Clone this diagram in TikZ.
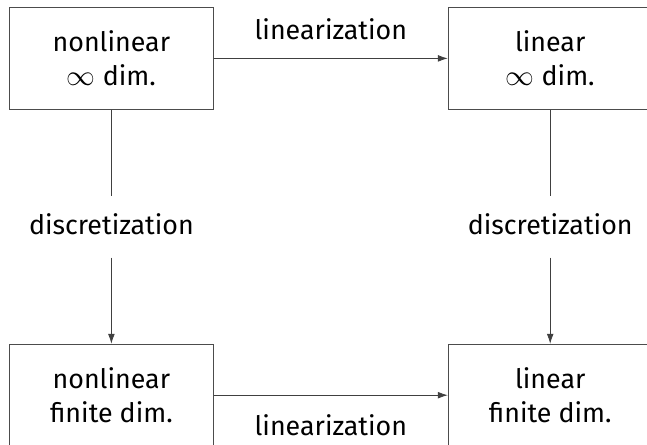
\documentclass[tikz,border=0pt]{standalone}
\usepackage{fontspec}
\setmainfont{Fira Sans}
\usetikzlibrary{arrows.meta,positioning}

\begin{document}
\begin{tikzpicture}[
  font=\fontsize{13.4}{17}\selectfont,
  box/.style ={draw=black!70, align=center, minimum width=102pt, minimum height=51pt, inner sep=0pt},
  arr/.style ={-{Latex[length=5pt,width=3.4pt]}, draw=black!75},
  lbl/.style ={inner xsep=2pt, inner ysep=8.5pt, text height=10.5pt, text depth=3pt},
  node distance=117pt and 117pt
]
\useasboundingbox (0,0) rectangle (323.5pt,-222pt);
\clip (0,0) rectangle (323.5pt,-222pt);
\node[box, anchor=north west] (nlinf) at (4.5pt,-3.5pt) {nonlinear\\$\infty$ dim.};
\node[box, right=of nlinf] (linf)  {linear\\$\infty$ dim.};
\node[box, below=of nlinf] (nlfin) {nonlinear\\finite dim.};
\node[box, below=of linf]  (lfin)  {linear\\finite dim.};
\draw[arr] (nlinf) -- node[above=5.7pt]{linearization} (linf);
\draw[arr] (nlfin) -- node[below=6.2pt]{linearization} (lfin);
% discretization labels break the vertical lines
\path (nlinf) -- node[lbl] (dl) {discretization} (nlfin);
\path (linf)  -- node[lbl] (dr) {discretization} (lfin);
\draw[draw=black!75] (nlinf) -- (dl); \draw[arr] (dl) -- (nlfin);
\draw[draw=black!75] (linf)  -- (dr); \draw[arr] (dr) -- (lfin);
\end{tikzpicture}
\end{document}
